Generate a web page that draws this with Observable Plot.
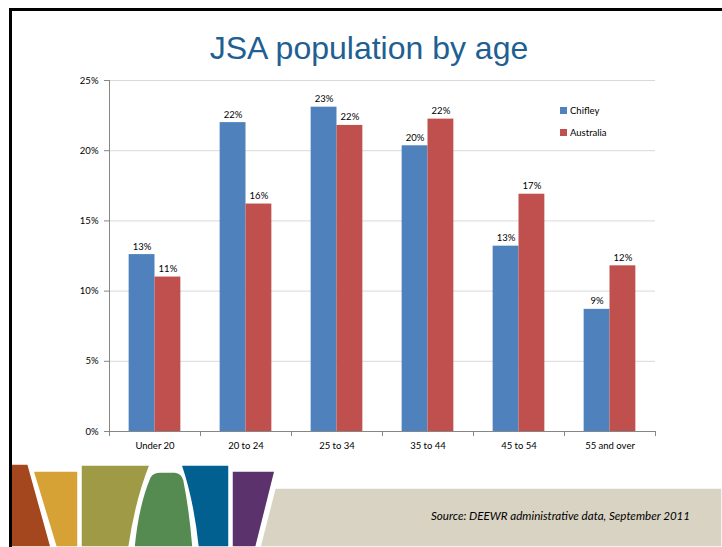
<!DOCTYPE html>
<html>
<head>
<meta charset="utf-8">
<script src="https://cdn.jsdelivr.net/npm/d3@7"></script>
<script src="https://cdn.jsdelivr.net/npm/@observablehq/plot@0.6"></script>
<style>
  html, body { margin: 0; padding: 0; background: #fff; }
  #slide { position: relative; width: 722px; height: 547px; overflow: hidden; background: #fff; font-family: Lato, "Open Sans", sans-serif; }
  #chart { position: absolute; left: 0; top: 0; }
  #title { position: absolute; left: 16px; right: 0; top: 30px; text-align: center; font-family: "Liberation Sans", Arial, sans-serif; font-size: 32px; color: #215f92; }
  #legend { position: absolute; left: 560px; top: 99px; font-size: 9.5px; color: #000; }
  #legend .row { display: flex; align-items: center; height: 22px; }
  #legend .sw { width: 7px; height: 7px; margin-right: 3px; }
  #deco { position: absolute; left: 0; top: 0; }
  #source { position: absolute; left: 431px; top: 509px; font-style: italic; font-size: 11.6px; color: #000; }
  .border-top { position: absolute; left: 9px; top: 8px; width: 713px; height: 3px; background: #000; }
  .border-left { position: absolute; left: 9px; top: 8px; width: 3px; height: 539px; background: #000; }
</style>
</head>
<body>
<div id="slide">
  <div id="chart"></div>
  <svg id="deco" width="722" height="547">
    <g stroke="#fff" stroke-width="1.5">
      <path d="M10,464 L28,464 L51,547 L10,547 Z" fill="#a4471f"/>
      <path d="M33,471 L78,471 L78,547 L56,547 Z" fill="#d6a236"/>
      <path d="M81,465 L150,465 Q136,500 129,547 L81,547 Z" fill="#9f9a46"/>
      <path d="M150,477 Q153,472 160,472 L175,472 Q182,473 184,480 Q190,510 193,547 L134,547 Q138,505 150,477 Z" fill="#558b50"/>
      <path d="M181,465 L229,465 L229,547 L198,547 Q193,500 181,465 Z" fill="#01608f"/>
      <path d="M232,471 L275,471 L256,547 L232,547 Z" fill="#5c326c"/>
      <path d="M275,488 L722,488 L722,547 L260,547 Z" fill="#d8d3c2"/>
    </g>
  </svg>
  <div id="title">JSA population by age</div>
  <div id="legend"></div>
  <div id="source">Source: DEEWR administrative data, September 2011</div>
  <div class="border-top"></div>
  <div class="border-left"></div>
</div>
<script>
const categories = ["Under 20", "20 to 24", "25 to 34", "35 to 44", "45 to 54", "55 and over"];
const series = ["Chifley", "Australia"];
const chifley = [12.6, 22.0, 23.1, 20.35, 13.2, 8.7];
const australia = [11.0, 16.2, 21.8, 22.25, 16.9, 11.8];
const yTicks = [0, 5, 10, 15, 20, 25];
const colors = ["#4f81bd", "#c0504d"];

const data = categories.flatMap((c, i) => [
  {age: c, series: series[0], value: chifley[i]},
  {age: c, series: series[1], value: australia[i]}
]);

const plot = Plot.plot({
  width: 722,
  height: 470,
  marginLeft: 107,
  marginRight: 65,
  marginTop: 80,
  marginBottom: 39,
  style: {fontFamily: "Lato, 'Open Sans', sans-serif", fontSize: "9.5px", color: "#000", background: "transparent", overflow: "visible"},
  fx: {domain: categories, padding: 0, label: null, tickSize: 0, tickPadding: 11, axis: "bottom"},
  x: {domain: series, paddingInner: 0, paddingOuter: 0.76, round: false, axis: null},
  y: {domain: [0, 25], ticks: yTicks, tickFormat: d => d + "%", tickSize: 0, tickPadding: 11, label: null},
  color: {domain: series, range: colors},
  marks: [
    Plot.ruleY(yTicks, {stroke: "#d9d9d9", strokeWidth: 1}),
    Plot.barY(data, {fx: "age", x: "series", y: "value", fill: "series"}),
    Plot.ruleY([0], {stroke: "#868686"}),
    Plot.text(data, {fx: "age", x: "series", y: "value", text: d => Math.round(d.value) + "%", dy: -8, fill: "#000"})
  ]
});
document.getElementById("chart").appendChild(plot);

// axis line and tick marks (Excel style) from Plot's own scales
const fx = plot.scale("fx");
const y = plot.scale("y");
const svg = d3.select(plot.tagName === "svg" ? plot : plot.querySelector("svg"));
const y0 = y.apply(0), yTop = y.apply(25);
const left = fx.apply(categories[0]);
const g = svg.append("g").attr("stroke", "#868686").attr("stroke-width", 1);
g.append("line").attr("x1", left + 0.5).attr("x2", left + 0.5).attr("y1", yTop).attr("y2", y0);
yTicks.forEach(t => g.append("line").attr("x1", left - 5).attr("x2", left).attr("y1", y.apply(t) + 0.5).attr("y2", y.apply(t) + 0.5));
const bounds = categories.map(c => fx.apply(c)).concat([fx.apply(categories[categories.length - 1]) + fx.bandwidth]);
bounds.forEach(b => g.append("line").attr("x1", b + 0.5).attr("x2", b + 0.5).attr("y1", y0).attr("y2", y0 + 5));

// legend
const legend = document.getElementById("legend");
series.forEach((s, i) => {
  const row = document.createElement("div");
  row.className = "row";
  row.innerHTML = `<div class="sw" style="background:${colors[i]}"></div><span>${s}</span>`;
  legend.appendChild(row);
});
</script>
</body>
</html>
